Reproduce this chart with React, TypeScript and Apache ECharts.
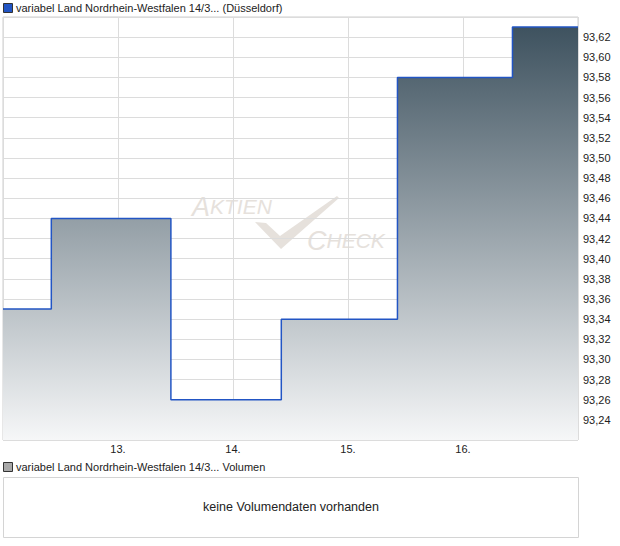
import React, { useEffect, useRef } from "react";
import * as echarts from "echarts";

const legendMain = "variabel Land Nordrhein-Westfalen 14/3... (Düsseldorf)";
const legendVolume = "variabel Land Nordrhein-Westfalen 14/3... Volumen";
const noVolumeText = "keine Volumendaten vorhanden";

// x = day of month (fractional), y = price
const times = [12.0, 12.42, 13.46, 14.42, 15.43, 16.43, 17.0];
const prices = [93.35, 93.44, 93.26, 93.34, 93.58, 93.63, 93.63];

const xMin = 12;
const xMax = 17;
const yMin = 93.22;
const yMax = 93.64;

export default function App() {
  const ref = useRef<HTMLDivElement>(null);
  useEffect(() => {
    if (!ref.current) return;
    const chart = echarts.init(ref.current, null, { renderer: "svg" });
    const font = "'Liberation Sans', Arial, sans-serif";
    const wm = "#e6e1dc";
    chart.setOption({
      animation: false,
      textStyle: { fontFamily: font },
      grid: {
        left: 3,
        right: 42,
        top: 17,
        bottom: 106,
        show: true,
        borderColor: "#cfcfcf",
        borderWidth: 1,
        backgroundColor: "transparent",
      },
      xAxis: {
        type: "value",
        min: xMin,
        max: xMax,
        interval: 1,
        axisLine: { show: false },
        axisTick: { show: false },
        splitLine: { show: true, lineStyle: { color: "#dcdcdc", width: 1 } },
        axisLabel: {
          showMinLabel: false,
          showMaxLabel: false,
          color: "#222",
          fontSize: 11,
          fontFamily: font,
          margin: 3,
          formatter: (v: number) => `${v}.`,
        },
      },
      yAxis: {
        type: "value",
        position: "right",
        min: yMin,
        max: yMax,
        interval: 0.02,
        axisLine: { show: false },
        axisTick: { show: false },
        splitLine: { show: true, lineStyle: { color: "#dcdcdc", width: 1 } },
        axisLabel: {
          showMinLabel: false,
          showMaxLabel: false,
          color: "#222",
          fontSize: 11,
          fontFamily: font,
          margin: 5,
          formatter: (v: number) => v.toFixed(2).replace(".", ","),
        },
      },
      graphic: [
        { type: "rect", left: 3, top: 3, shape: { width: 9, height: 9 }, style: { fill: "#2255c4", stroke: "#333", lineWidth: 1 } },
        { type: "text", left: 16, top: 2, style: { text: legendMain, fill: "#222", font: `11px ${font}` } },
        { type: "rect", left: 3, top: 462, shape: { width: 9, height: 9 }, style: { fill: "#a8a8a8", stroke: "#333", lineWidth: 1 } },
        { type: "text", left: 16, top: 461, style: { text: legendVolume, fill: "#222", font: `11px ${font}` } },
        { type: "rect", shape: { x: 3.5, y: 477.5, width: 575, height: 60 }, style: { fill: "#fff", stroke: "#d4d4d4", lineWidth: 1 } },
        { type: "text", x: 291, y: 507, style: { text: noVolumeText, fill: "#222", font: `12.5px ${font}`, align: "center", verticalAlign: "middle" } },
        {
          type: "group",
          z: -1,
          silent: true,
          children: [
            {
              type: "text",
              x: 192,
              y: 193,
              style: {
                text: "{b|A}{s|KTIEN}",
                fill: wm,
                rich: {
                  b: { fontSize: 27, fontStyle: "italic", fontFamily: font, fill: wm },
                  s: { fontSize: 21, fontStyle: "italic", fontFamily: font, fill: wm },
                },
              },
            },
            {
              type: "text",
              x: 307,
              y: 227,
              style: {
                text: "{b|C}{s|HECK}",
                fill: wm,
                rich: {
                  b: { fontSize: 27, fontStyle: "italic", fontFamily: font, fill: wm },
                  s: { fontSize: 21, fontStyle: "italic", fontFamily: font, fill: wm },
                },
              },
            },
            {
              type: "polygon",
              shape: { points: [[255, 222], [266, 223], [280, 236], [337, 196], [339, 198], [281, 249]] },
              style: { fill: wm },
            },
          ],
        },
      ],
      series: [
        {
          type: "line",
          step: "end",
          data: times.map((t, i) => [t, prices[i]]),
          showSymbol: false,
          lineStyle: { color: "#2255c4", width: 1.5 },
          areaStyle: {
            origin: "start",
            color: new echarts.graphic.LinearGradient(0, 0, 0, 1, [
              { offset: 0, color: "#3e525f" },
              { offset: 1, color: "#f6f7f8" },
            ]),
            opacity: 1,
          },
          z: 3,
        },
      ],
    });
    return () => chart.dispose();
  }, []);
  return <div ref={ref} style={{ width: 620, height: 546, position: "absolute", left: 0, top: 0 }} />;
}
